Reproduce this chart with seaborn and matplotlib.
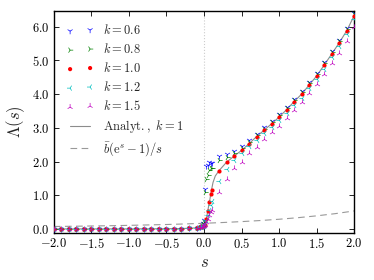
import numpy as np
import pandas as pd
import matplotlib
matplotlib.use("Agg")
import matplotlib.pyplot as plt
import seaborn as sns
from matplotlib.ticker import FuncFormatter, MultipleLocator

# grid of s values: coarse grid -2..2 (step 0.1) plus a few extra points near s=0
s_neg = [-2.0, -1.9, -1.8, -1.7, -1.6, -1.5, -1.4, -1.3, -1.2, -1.1,
         -1.0, -0.9, -0.8, -0.7, -0.6, -0.5, -0.4, -0.3, -0.2, -0.1]
lam_neg = [0.0, 0.0, 0.0, 0.0, 0.0, 0.0, 0.0, 0.0, 0.0, 0.0,
           0.0, 0.0, 0.0, 0.0, 0.0, 0.005, 0.01, 0.01, 0.02, 0.03]

s_pos = [0.0, 0.1, 0.2, 0.3, 0.4, 0.5, 0.6, 0.7, 0.8, 0.9, 1.0,
         1.1, 1.2, 1.3, 1.4, 1.5, 1.6, 1.7, 1.8, 1.9, 2.0]
s_fine = [-0.05, -0.03, -0.01, 0.01, 0.03, 0.05, 0.07, 0.09]

k_labels = ["0.6", "0.8", "1.0", "1.2", "1.5"]

lam_pos = {
    "0.6": [0.25, 1.97, 2.15, 2.22, 2.32, 2.45, 2.63, 2.83, 3.02, 3.21, 3.41,
            3.63, 3.87, 4.09, 4.36, 4.63, 4.95, 5.28, 5.61, 5.97, 6.40],
    "0.8": [0.20, 1.82, 2.05, 2.12, 2.25, 2.40, 2.58, 2.79, 2.98, 3.17, 3.37,
            3.59, 3.83, 4.05, 4.32, 4.59, 4.91, 5.24, 5.57, 5.93, 6.37],
    "1.0": [0.10, 1.16, 1.73, 1.98, 2.16, 2.33, 2.53, 2.74, 2.93, 3.12, 3.32,
            3.54, 3.78, 4.00, 4.27, 4.54, 4.86, 5.19, 5.52, 5.88, 6.33],
    "1.2": [0.10, 0.82, 1.43, 1.77, 2.05, 2.25, 2.45, 2.65, 2.84, 3.03, 3.23,
            3.45, 3.68, 3.90, 4.17, 4.44, 4.76, 5.09, 5.42, 5.78, 6.22],
    "1.5": [0.08, 0.55, 1.10, 1.48, 1.80, 2.00, 2.25, 2.44, 2.66, 2.87, 3.06,
            3.28, 3.52, 3.78, 4.03, 4.29, 4.60, 4.92, 5.22, 5.59, 6.00],
}
lam_fine = {
    "0.6": [0.07, 0.10, 0.18, 1.18, 1.88, 1.90, 2.00, 1.95],
    "0.8": [0.07, 0.09, 0.15, 1.10, 1.47, 1.60, 1.75, 1.80],
    "1.0": [0.06, 0.07, 0.09, 0.13, 0.30, 0.54, 0.80, 1.04],
    "1.2": [0.05, 0.07, 0.09, 0.14, 0.25, 0.40, 0.55, 0.70],
    "1.5": [0.05, 0.06, 0.08, 0.12, 0.20, 0.30, 0.42, 0.50],
}

# analytic solution for k = 1
s_line = [-2.0, -1.5, -1.0, -0.5, -0.3, -0.2, -0.1, -0.05, 0.0, 0.02, 0.035, 0.05,
          0.075, 0.09, 0.1, 0.12, 0.15, 0.2, 0.3, 0.4, 0.5, 0.6, 0.7, 0.8, 0.9, 1.0,
          1.1, 1.2, 1.3, 1.4, 1.5, 1.6, 1.7, 1.8, 1.9, 2.0]
lam_line = [0.0, 0.0, 0.0, 0.005, 0.01, 0.02, 0.03, 0.05, 0.10, 0.20, 0.34, 0.54,
            0.83, 1.04, 1.16, 1.38, 1.57, 1.73, 1.98, 2.16, 2.33, 2.53, 2.74, 2.93, 3.12, 3.32,
            3.54, 3.78, 4.00, 4.27, 4.54, 4.86, 5.19, 5.52, 5.88, 6.33]

# bbar (e^s - 1)/s curve
s_dash = [-2.0, -1.75, -1.5, -1.25, -1.0, -0.75, -0.5, -0.25, 0.0,
          0.25, 0.5, 0.75, 1.0, 1.25, 1.5, 1.75, 2.0]
lam_dash = [0.072, 0.079, 0.087, 0.095, 0.106, 0.118, 0.131, 0.148, 0.167,
            0.190, 0.217, 0.249, 0.287, 0.333, 0.388, 0.454, 0.534]

sns.set_style("ticks")
plt.rcParams.update({
    "mathtext.fontset": "cm",
    "font.family": ["DejaVu Serif"],
    "xtick.direction": "in",
    "ytick.direction": "in",
    "xtick.top": True,
    "ytick.right": True,
    "xtick.major.size": 3.5,
    "ytick.major.size": 3.5,
    "xtick.major.width": 0.6,
    "ytick.major.width": 0.6,
    "axes.linewidth": 1.0,
    "axes.edgecolor": "black",
    "xtick.color": "black",
    "ytick.color": "black",
})

fig = plt.figure(figsize=(3.74, 2.80), dpi=100)
ax = fig.add_axes([0.144, 0.168, 0.803, 0.793])

ax.axvline(0.0, color="0.8", lw=0.8, ls=":", zorder=0)

styles = {
    "0.6": dict(marker="1", color="b", s=20, linewidth=0.5),
    "0.8": dict(marker="4", color="g", s=20, linewidth=0.5),
    "1.0": dict(marker="o", color="r", s=9, linewidth=0),
    "1.2": dict(marker="3", color="c", s=20, linewidth=0.5),
    "1.5": dict(marker="2", color="m", s=20, linewidth=0.5),
}

for k in k_labels:
    df = pd.DataFrame({
        "s": s_neg + s_pos + s_fine,
        "lam": lam_neg + lam_pos[k] + lam_fine[k],
    })
    sns.scatterplot(data=df, x="s", y="lam", ax=ax, label=rf"$k = {k}$",
                    zorder=3, **styles[k])

sns.lineplot(x=s_line, y=lam_line, ax=ax, color="0.55", lw=0.8, sort=False,
             label=r"$\mathrm{Analyt.,}\ k = 1$", zorder=2)
sns.lineplot(x=s_dash, y=lam_dash, ax=ax, color="0.6", lw=0.8, sort=False,
             label=r"$\bar{b}(\mathrm{e}^s - 1)/s$", zorder=2)
ax.lines[-1].set_dashes((6, 4))

ax.set_xlim(-2.0, 2.0)
ax.set_ylim(-0.12, 6.47)
ax.xaxis.set_major_locator(MultipleLocator(0.5))
ax.yaxis.set_major_locator(MultipleLocator(1.0))
fmt = FuncFormatter(lambda v, p: f"${v:.1f}$")
ax.xaxis.set_major_formatter(fmt)
ax.yaxis.set_major_formatter(fmt)
ax.tick_params(labelsize=9, pad=3)
ax.set_xlabel(r"$s$", fontsize=12, labelpad=2)
ax.set_ylabel(r"$\Lambda(s)$", fontsize=12, labelpad=4)

ax.legend(loc="upper left", frameon=False, fontsize=9, numpoints=2,
          scatterpoints=2, handlelength=2.2, handletextpad=0.7,
          labelspacing=0.4, borderaxespad=0.6)

fig.savefig("out.png", dpi=100)
